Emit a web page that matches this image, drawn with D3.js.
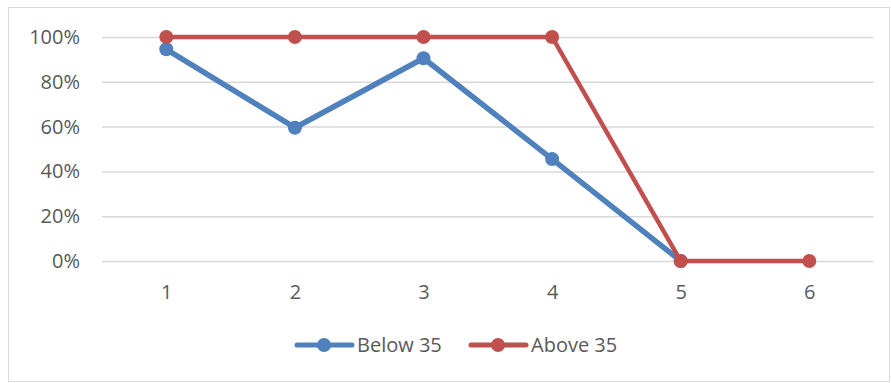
<!DOCTYPE html>
<html>
<head>
<meta charset="utf-8">
<script src="https://cdn.jsdelivr.net/npm/d3@7/dist/d3.min.js"></script>
<style>
  html, body { margin: 0; padding: 0; background: #fff; }
  svg { display: block; font-family: "Open Sans", "Liberation Sans", sans-serif; }
</style>
</head>
<body>
<svg id="chart" width="891" height="383"></svg>
<script>
// Categories along the x axis
const categories = ["1", "2", "3", "4", "5", "6"];
// Share per category for each age group (null = no point)
const below35 = [0.945, 0.595, 0.905, 0.455, 0, null];
const above35 = [1, 1, 1, 1, 0, 0];
const seriesNames = ["Below 35", "Above 35"];
const seriesColors = ["#4f81bd", "#c0504d"];
const yTicks = [0, 0.2, 0.4, 0.6, 0.8, 1];

const svg = d3.select("#chart");
const plot = { left: 102, right: 873.6, top: 37, bottom: 261 };

// Chart frame
svg.append("rect")
  .attr("x", 8.5).attr("y", 7.5)
  .attr("width", 881).attr("height", 374)
  .attr("fill", "#fff").attr("stroke", "#d9d9d9").attr("stroke-width", 1);

const x = d3.scalePoint().domain(categories)
  .range([plot.left, plot.right]).padding(0.5);
const y = d3.scaleLinear().domain([0, 1]).range([plot.bottom, plot.top]);

// Horizontal gridlines + y labels
const yAxis = d3.axisLeft(y).tickValues(yTicks)
  .tickFormat(d3.format(".0%"))
  .tickSize(-(plot.right - plot.left)).tickPadding(22);
const gy = svg.append("g").attr("transform", `translate(${plot.left},0)`).call(yAxis);
gy.select(".domain").remove();
gy.selectAll(".tick line").attr("stroke", "#d9d9d9").attr("stroke-width", 1.5);
gy.selectAll(".tick text").attr("fill", "#595959").attr("font-size", 20)
  .attr("font-family", "'Open Sans', sans-serif");

// x labels
const xAxis = d3.axisBottom(x).tickSize(0).tickPadding(24);
const gx = svg.append("g").attr("transform", `translate(0,${plot.bottom})`).call(xAxis);
gx.select(".domain").remove();
gx.selectAll(".tick text").attr("fill", "#595959").attr("font-size", 20)
  .attr("font-family", "'Open Sans', sans-serif");

const line = d3.line()
  .defined(d => d !== null)
  .x((d, i) => x(categories[i])).y(d => y(d));

const series = [
  { name: seriesNames[0], values: below35, color: seriesColors[0], width: 5.5 },
  { name: seriesNames[1], values: above35, color: seriesColors[1], width: 4.5 }
];

series.forEach(s => {
  svg.append("path").datum(s.values)
    .attr("d", line).attr("fill", "none")
    .attr("stroke", s.color).attr("stroke-width", s.width)
    .attr("stroke-linejoin", "round").attr("stroke-linecap", "round");
  svg.append("g").selectAll("circle")
    .data(s.values.map((v, i) => ({ v, c: categories[i] })).filter(d => d.v !== null))
    .join("circle")
    .attr("cx", d => x(d.c)).attr("cy", d => y(d.v))
    .attr("r", 7).attr("fill", s.color);
});

// Legend
const legendY = 345;
const legendItems = [
  { x0: 297, tx: 357 },
  { x0: 471, tx: 531 }
];
series.forEach((s, i) => {
  const g = svg.append("g");
  const lx = legendItems[i].x0;
  g.append("line").attr("x1", lx).attr("x2", lx + 55)
    .attr("y1", legendY).attr("y2", legendY)
    .attr("stroke", s.color).attr("stroke-width", 5).attr("stroke-linecap", "round");
  g.append("circle").attr("cx", lx + 27).attr("cy", legendY).attr("r", 7).attr("fill", s.color);
  g.append("text").attr("x", legendItems[i].tx).attr("y", legendY)
    .attr("dy", "0.35em").attr("fill", "#595959").attr("font-size", 20)
    .text(s.name);
});
</script>
</body>
</html>
